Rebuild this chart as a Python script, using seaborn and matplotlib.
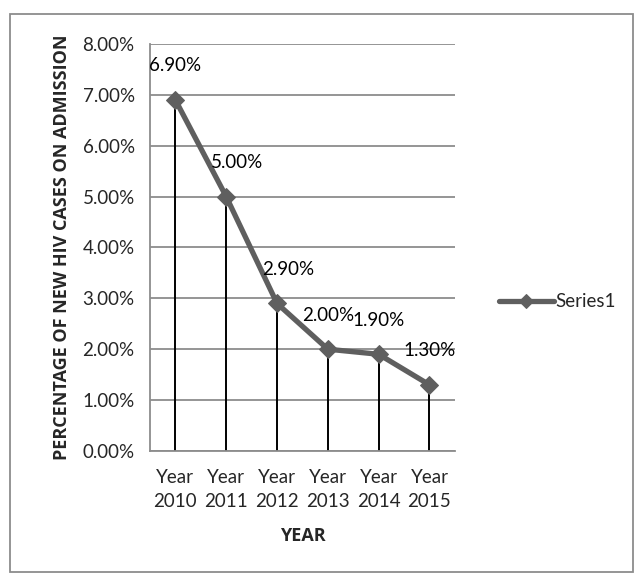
import matplotlib
matplotlib.use("Agg")
import matplotlib.pyplot as plt
import seaborn as sns
import pandas as pd
from matplotlib.patches import Rectangle
from matplotlib.ticker import FuncFormatter, MultipleLocator

# valeurs
annees = ["Year\n2010", "Year\n2011", "Year\n2012", "Year\n2013", "Year\n2014", "Year\n2015"]
pourcentages = [6.90, 5.00, 2.90, 2.00, 1.90, 1.30]
etiquettes = ["6.90%", "5.00%", "2.90%", "2.00%", "1.90%", "1.30%"]
serie = "Series1"

df = pd.DataFrame({"annee": annees, "pct": pourcentages})

sns.set_style("white")
plt.rcParams["font.family"] = ["Lato", "DejaVu Sans"]

fig = plt.figure(figsize=(6.38, 5.75), dpi=100)
ax = fig.add_axes([0.235, 0.2157, 0.478, 0.708])

gris = "#8c8c8c"
ligne = "#5f5f5f"
taille = 13.5

# lignes verticales jusqu'a zero
ax.vlines(range(len(annees)), 0, pourcentages, color="black", lw=1.4, zorder=2)

sns.lineplot(data=df, x="annee", y="pct", ax=ax, color=ligne, lw=3.8,
             marker="D", markersize=9, markeredgecolor=ligne, sort=False,
             label=serie, zorder=3)

# etiquettes de valeurs
decalages = [0, 11, 11, 0, 0, 0]
for i, (v, t) in enumerate(zip(pourcentages, etiquettes)):
    ax.annotate(t, (i, v), xytext=(decalages[i], 34), textcoords="offset pixels",
                ha="center", va="center", fontsize=taille, color="black")

ax.set_xlim(-0.5, 5.5)
ax.set_ylim(0, 8)
ax.yaxis.set_major_locator(MultipleLocator(1))
ax.yaxis.set_major_formatter(FuncFormatter(lambda v, p: f"{v:.2f}%"))
ax.grid(axis="y", color=gris, lw=1.3)
ax.set_axisbelow(True)

for s in ["top", "right"]:
    ax.spines[s].set_visible(False)
for s in ["left", "bottom"]:
    ax.spines[s].set_color(gris)
    ax.spines[s].set_linewidth(1.3)

ax.tick_params(axis="y", length=6, color=gris, width=1.3, labelsize=taille, pad=5)
ax.tick_params(axis="x", length=0, labelsize=taille, pad=13)
for lab in ax.get_xticklabels():
    lab.set_linespacing(1.5)

gras = dict(family=["Open Sans", "DejaVu Sans"], fontweight="bold", fontsize=13)
ax.set_xlabel("YEAR", labelpad=12, **gras)
ax.set_ylabel("PERCENTAGE OF NEW HIV CASES ON ADMISSION", labelpad=8, **gras)

leg = ax.legend(loc="center left", bbox_to_anchor=(1.09, 0.366), frameon=False,
                fontsize=taille, handlelength=2.9, handletextpad=0.1,
                markerscale=0.8)

# cadre exterieur
fig.patches.append(Rectangle((10 / 638, 3 / 575), 623 / 638, 558 / 575,
                             transform=fig.transFigure, fill=False,
                             edgecolor=gris, lw=1.3))

fig.savefig("out.png", dpi=100)
